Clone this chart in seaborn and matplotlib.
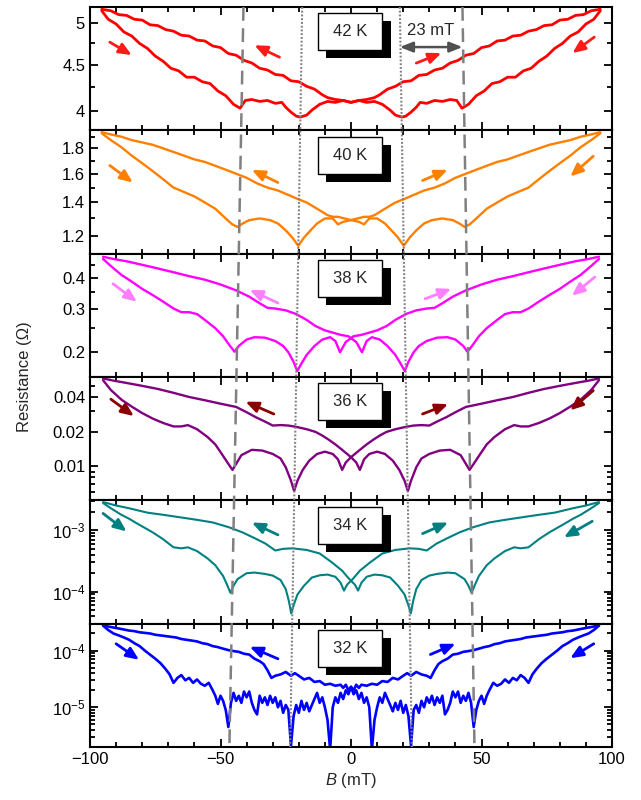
import matplotlib
matplotlib.use("Agg")
import matplotlib.pyplot as plt
import seaborn as sns
from matplotlib.patches import Rectangle
from matplotlib.ticker import (FixedLocator, FixedFormatter, NullFormatter,
                               LogLocator, LogFormatterMathtext, MultipleLocator)

# ── Style ──────────────────────────────────────────────
sns.set_style("ticks")
plt.rcParams["font.family"] = ["Liberation Sans", "DejaVu Sans"]
plt.rcParams["mathtext.fontset"] = "custom"
plt.rcParams["mathtext.rm"] = "Liberation Sans"
plt.rcParams["mathtext.it"] = "Liberation Sans:italic"
plt.rcParams["axes.linewidth"] = 1.5

# ── Data: up sweep (-B -> +B); down sweep is its mirror image ──
temps = ["42 K", "40 K", "38 K", "36 K", "34 K", "32 K"]
line_colors = ["#ff0000", "#ff8000", "#ff00ff", "#800080", "#008080", "#0000ff"]
arrow_colors = ["#ff1a1a", "#ff8000", "#ff80ff", "#8b0000", "#008080", "#0000ff"]

b42 = [-95.5, -93, -90, -87, -84, -81, -78, -75, -72, -69, -66, -63, -60, -57, -54,
       -51, -48, -45, -42.5, -40.5, -38, -35, -32, -29, -26.5, -25, -23, -21, -19.5,
       -17, -15, -12, -9, -6, -3, 0, 3, 6, 9, 11, 14, 17, 20, 23, 26, 29, 32, 35, 38,
       41, 44, 47, 50, 53, 56, 59, 62, 65, 68, 71, 74, 77, 80, 83, 86, 89, 92, 95.5]
r42 = [5.16, 5.05, 4.99, 4.89, 4.84, 4.75, 4.69, 4.60, 4.54, 4.46, 4.43, 4.36, 4.36,
       4.31, 4.29, 4.21, 4.16, 4.07, 4.03, 4.11, 4.12, 4.10, 4.11, 4.08, 4.09, 4.04,
       3.99, 3.95, 3.94, 3.96, 4.01, 4.07, 4.10, 4.09, 4.11, 4.09, 4.11, 4.12, 4.14,
       4.17, 4.23, 4.26, 4.31, 4.32, 4.38, 4.39, 4.44, 4.46, 4.52, 4.55, 4.61, 4.63,
       4.70, 4.72, 4.78, 4.79, 4.84, 4.85, 4.90, 4.92, 4.97, 4.98, 5.04, 5.05, 5.10,
       5.11, 5.16, 5.18]

b40 = [-95.5, -92, -88, -84, -80, -76, -72, -68, -64, -60, -56, -52, -48, -45.5, -43.5,
       -41.5, -39, -35, -31, -28, -25, -22.5, -20.2, -18, -15.5, -13, -10, -7, -5, -3,
       0, 2.5, 5, 7, 9, 11, 14, 17, 20, 24, 28, 32, 36, 40, 44, 48, 52, 56, 60, 64, 68,
       72, 76, 80, 84, 88, 92, 95.5]
r40 = [1.93, 1.87, 1.81, 1.74, 1.68, 1.62, 1.56, 1.50, 1.47, 1.44, 1.40, 1.36, 1.30,
       1.265, 1.25, 1.27, 1.29, 1.30, 1.29, 1.27, 1.23, 1.19, 1.145, 1.19, 1.23, 1.27,
       1.30, 1.30, 1.265, 1.28, 1.29, 1.30, 1.31, 1.31, 1.32, 1.34, 1.37, 1.40, 1.42,
       1.45, 1.48, 1.50, 1.53, 1.57, 1.60, 1.63, 1.66, 1.69, 1.71, 1.74, 1.77, 1.80,
       1.83, 1.85, 1.87, 1.90, 1.92, 1.94]

b38 = [-95, -92, -88, -84, -80, -76, -72, -68, -65, -62, -59, -56, -52, -49, -46.5,
       -44.6, -43, -40, -37, -33, -29, -26, -24, -22, -20.6, -19, -17, -14, -11, -8,
       -6, -4.2, -2, 1, 4, 7, 10, 13.6, 17, 21, 25, 29, 32, 35, 39, 44, 50, 56, 62, 68,
       74, 80, 86, 91, 95]
r38 = [0.475, 0.445, 0.41, 0.385, 0.36, 0.34, 0.32, 0.30, 0.29, 0.29, 0.285, 0.27,
       0.25, 0.232, 0.213, 0.201, 0.212, 0.225, 0.23, 0.229, 0.222, 0.212, 0.20, 0.183,
       0.168, 0.18, 0.195, 0.212, 0.225, 0.23, 0.222, 0.20, 0.22, 0.232, 0.235, 0.24,
       0.245, 0.255, 0.27, 0.285, 0.295, 0.30, 0.302, 0.315, 0.335, 0.355, 0.375, 0.392,
       0.405, 0.42, 0.435, 0.45, 0.465, 0.475, 0.485]

b36 = [-95, -92, -88, -84, -80, -76, -72, -68, -65, -62.5, -59, -55, -52, -49, -47,
       -45.4, -44, -42, -38, -34, -30, -27, -25, -23, -21.8, -20.5, -18.5, -16, -13,
       -10, -7, -5, -3.4, -2, 0, 3.4, 6, 8.5, 11, 13.6, 17, 21, 24, 27, 30, 33, 36.5,
       40, 44, 50, 56, 62, 68, 74, 80, 86, 91, 95]
r36 = [0.056, 0.046, 0.038, 0.033, 0.029, 0.026, 0.0238, 0.0222, 0.0222, 0.0228,
       0.021, 0.018, 0.0155, 0.0123, 0.0105, 0.0093, 0.0105, 0.0125, 0.0139, 0.0137,
       0.0128, 0.0117, 0.0098, 0.0075, 0.0061, 0.0075, 0.0093, 0.0112, 0.0128, 0.0134,
       0.0128, 0.0115, 0.0093, 0.0108, 0.012, 0.0139, 0.0155, 0.017, 0.0185, 0.0199,
       0.021, 0.022, 0.0226, 0.0228, 0.0226, 0.0245, 0.0267, 0.0295, 0.0328, 0.035,
       0.0375, 0.040, 0.0435, 0.047, 0.050, 0.053, 0.0555, 0.058]

b34 = [-95, -92, -88, -85, -82, -79, -76, -72, -68, -65, -62.5, -59, -55, -52, -49,
       -47.5, -46.2, -45, -43.5, -40, -37, -33, -30, -27, -25, -23.8, -22.9, -22, -20.5,
       -18, -15, -12, -9, -6, -4, -2.7, -1.5, 0.8, 3.4, 7.3, 12, 17, 22.5, 26, 29, 32.8,
       37, 41.6, 46.6, 53, 59.5, 66, 72, 78, 85, 90, 95]
r34 = [2.8e-3, 2.3e-3, 1.8e-3, 1.55e-3, 1.3e-3, 1.1e-3, 9.3e-4, 7.2e-4, 5.3e-4, 5.1e-4,
       5.3e-4, 4.6e-4, 3.5e-4, 2.7e-4, 1.8e-4, 1.3e-4, 9.6e-5, 1.25e-4, 1.6e-4, 2.0e-4,
       2.05e-4, 1.95e-4, 1.83e-4, 1.55e-4, 1.1e-4, 7.0e-5, 4.4e-5, 6.0e-5, 9.0e-5,
       1.25e-4, 1.7e-4, 1.85e-4, 1.9e-4, 1.75e-4, 1.4e-4, 1.04e-4, 1.3e-4, 1.63e-4,
       2.2e-4, 3.0e-4, 4.2e-4, 4.8e-4, 5.1e-4, 5.0e-4, 4.7e-4, 6.1e-4, 7.5e-4, 9.3e-4,
       1.12e-3, 1.35e-3, 1.5e-3, 1.65e-3, 1.8e-3, 1.95e-3, 2.3e-3, 2.55e-3, 2.9e-3]

b32 = [-95, -93, -91, -89, -87, -85, -83, -81, -79, -77, -75, -73, -71, -69.5, -68,
       -66.5, -65, -63.5, -62, -60.5, -59, -57.5, -56, -54.5, -53, -52, -51, -50, -49,
       -48, -47, -46, -45, -44, -43, -42, -41, -40, -39, -38, -37, -36, -35, -34, -33,
       -32, -31, -30, -29, -28, -27, -26, -25, -24, -23, -22, -21, -20, -19, -18, -17,
       -16, -15, -14, -13, -12, -11, -10, -9, -8, -7, -6, -5, -4, -3, -2, -1, 0, 1, 2,
       3, 4, 6, 8, 10, 12, 14, 16, 18, 20, 21.5, 23, 25, 27, 29, 30.5, 32, 33.5, 35,
       37, 39, 41, 43, 45, 47, 49, 51, 53, 55, 57, 59, 61, 63, 65, 67, 69, 71, 73, 75,
       77, 79, 81, 83, 85, 87, 89, 91, 93, 95]
r32 = [2.75e-4, 2.3e-4, 2.0e-4, 1.85e-4, 1.7e-4, 1.55e-4, 1.35e-4, 1.2e-4, 1.0e-4,
       8.5e-5, 7.2e-5, 6.0e-5, 4.7e-5, 3.8e-5, 2.7e-5, 3.3e-5, 3.7e-5, 3.0e-5, 3.3e-5,
       2.7e-5, 3.1e-5, 2.6e-5, 2.4e-5, 2.7e-5, 2.0e-5, 1.6e-5, 1.15e-5, 1.6e-5, 1.3e-5,
       9.0e-6, 4.5e-6, 1.2e-5, 1.8e-5, 1.3e-5, 1.6e-5, 1.2e-5, 1.9e-5, 1.5e-5, 1.9e-5,
       1.2e-5, 9.0e-6, 7.5e-6, 1.6e-5, 1.2e-5, 1.5e-5, 1.1e-5, 1.6e-5, 1.2e-5, 1.5e-5,
       1.0e-5, 1.3e-5, 8.0e-6, 1.1e-5, 9.0e-6, 2.1e-6, 7.0e-6, 1.1e-5, 8.0e-6, 1.3e-5,
       9.0e-6, 1.2e-5, 8.5e-6, 1.1e-5, 1.4e-5, 1.8e-5, 1.2e-5, 1.5e-5, 1.0e-5, 6.0e-6,
       1.8e-6, 1.0e-5, 1.5e-5, 1.2e-5, 1.8e-5, 1.4e-5, 2.0e-5, 1.7e-5, 2.3e-5, 2.0e-5,
       2.5e-5, 2.2e-5, 2.5e-5, 2.4e-5, 2.6e-5, 2.5e-5, 2.9e-5, 2.8e-5, 3.3e-5, 3.1e-5,
       3.6e-5, 4.0e-5, 3.6e-5, 4.2e-5, 3.8e-5, 3.6e-5, 3.3e-5, 4.5e-5, 5.8e-5, 6.5e-5,
       7.2e-5, 8.5e-5, 8.8e-5, 9.5e-5, 9.8e-5, 1.02e-4, 1.08e-4, 1.15e-4, 1.2e-4,
       1.3e-4, 1.35e-4, 1.45e-4, 1.5e-4, 1.55e-4, 1.6e-4, 1.7e-4, 1.75e-4, 1.8e-4,
       1.85e-4, 1.9e-4, 2.0e-4, 2.05e-4, 2.1e-4, 2.2e-4, 2.25e-4, 2.35e-4, 2.45e-4,
       2.55e-4, 2.65e-4, 2.8e-4]

fields = [b42, b40, b38, b36, b34, b32]
values = [r42, r40, r38, r36, r34, r32]
line_widths = [2.0, 1.7, 1.7, 1.7, 1.5, 1.9]

ylims = [(3.81, 5.21), (1.104, 1.957), (0.159, 0.499),
         (0.00506, 0.0597), (3.0e-5, 3.1e-3), (2.0e-6, 2.98e-4)]
major_ticks = [[4, 4.5, 5], [1.2, 1.4, 1.6, 1.8], [0.2, 0.3, 0.4],
               [0.01, 0.02, 0.04], None, None]
major_labels = [["4", "4.5", "5"], ["1.2", "1.4", "1.6", "1.8"],
                ["0.2", "0.3", "0.4"], ["0.01", "0.02", "0.04"], None, None]
minor_ticks = [[4.25, 4.75], [1.1, 1.3, 1.5, 1.7, 1.9], [0.25, 0.35, 0.45],
               [0.006, 0.007, 0.008, 0.009, 0.03, 0.05], None, None]

# guide lines (top of panel 1 -> bottom of panel 6)
dash_top, dash_bottom = [-41.2, 42.7], [-46.6, 47.3]
dot_top, dot_bottom = [-18.7, 18.7], [-23.3, 23.3]

# sweep arrows in axes fraction: (x_start, y_start, x_end, y_end)
arrows = [
    [(0.038, 0.715, 0.080, 0.61), (0.363, 0.593, 0.315, 0.69),
     (0.625, 0.545, 0.673, 0.626), (0.966, 0.756, 0.924, 0.626)],
    [(0.038, 0.715, 0.082, 0.577), (0.36, 0.577, 0.31, 0.68),
     (0.637, 0.593, 0.685, 0.68), (0.964, 0.79, 0.92, 0.626)],
    [(0.044, 0.756, 0.09, 0.61), (0.36, 0.60, 0.306, 0.707),
     (0.642, 0.634, 0.692, 0.715), (0.967, 0.81, 0.923, 0.659)],
    [(0.04, 0.82, 0.084, 0.683), (0.352, 0.70, 0.298, 0.80),
     (0.637, 0.70, 0.686, 0.78), (0.964, 0.89, 0.92, 0.73)],
    [(0.025, 0.894, 0.07, 0.748), (0.36, 0.72, 0.31, 0.82),
     (0.637, 0.73, 0.686, 0.82), (0.962, 0.83, 0.908, 0.70)],
    [(0.05, 0.837, 0.094, 0.707), (0.36, 0.715, 0.306, 0.813),
     (0.652, 0.75, 0.70, 0.837), (0.965, 0.837, 0.92, 0.72)],
]

# ── Figure ─────────────────────────────────────────────
L, R, B, T = 0.1404, 0.9548, 0.06625, 0.99125
fig, axes = plt.subplots(6, 1, figsize=(6.41, 8.0), dpi=100, sharex=True,
                         gridspec_kw={"hspace": 0})
fig.subplots_adjust(left=L, right=R, bottom=B, top=T)

for i, ax in enumerate(axes):
    bx, ry = fields[i], values[i]
    # up sweep
    sns.lineplot(x=bx, y=ry, ax=ax, color=line_colors[i], lw=line_widths[i],
                 sort=False, estimator=None)
    # down sweep (mirror)
    sns.lineplot(x=[-v for v in bx], y=ry, ax=ax, color=line_colors[i],
                 lw=line_widths[i], sort=False, estimator=None)
    ax.set_yscale("log")
    ax.set_ylim(*ylims[i])
    ax.set_xlim(-100, 100)
    ax.set_ylabel("")

    if major_ticks[i] is not None:
        ax.yaxis.set_major_locator(FixedLocator(major_ticks[i]))
        ax.yaxis.set_major_formatter(FixedFormatter(major_labels[i]))
        ax.yaxis.set_minor_locator(FixedLocator(minor_ticks[i]))
    else:
        ax.yaxis.set_major_locator(LogLocator(base=10))
        ax.yaxis.set_major_formatter(LogFormatterMathtext())
        ax.yaxis.set_minor_locator(LogLocator(base=10, subs=range(2, 10)))
    ax.yaxis.set_minor_formatter(NullFormatter())

    ax.xaxis.set_major_locator(MultipleLocator(50))
    ax.xaxis.set_minor_locator(MultipleLocator(10))
    ax.tick_params(which="both", direction="in", top=True, right=True,
                   labelsize=12, width=1.3, colors="black")
    ax.tick_params(which="major", length=6)
    ax.tick_params(which="minor", length=3.5)
    for s in ax.spines.values():
        s.set_linewidth(1.5)
        s.set_color("black")

    # temperature label with drop shadow
    ax.add_patch(Rectangle((0.453, 0.585), 0.124, 0.30, transform=ax.transAxes,
                           facecolor="black", edgecolor="none", zorder=5))
    ax.add_patch(Rectangle((0.436, 0.65), 0.124, 0.30, transform=ax.transAxes,
                           facecolor="white", edgecolor="black", lw=1, zorder=6))
    ax.text(0.498, 0.80, temps[i], transform=ax.transAxes, ha="center",
            va="center", fontsize=12, zorder=7)

    for (x0, y0, x1, y1) in arrows[i]:
        ax.annotate("", xy=(x1, y1), xytext=(x0, y0), xycoords="axes fraction",
                    textcoords="axes fraction",
                    arrowprops=dict(arrowstyle="-|>,head_length=0.75,head_width=0.32",
                                    color=arrow_colors[i], lw=2.0,
                                    shrinkA=0, shrinkB=0, mutation_scale=10),
                    zorder=4)

# 23 mT marker in top panel
ax0 = axes[0]
tr = ax0.get_xaxis_transform()
ax0.annotate("", xy=(dot_top[1], 0.675), xytext=(dash_top[1], 0.675),
             xycoords=tr, textcoords=tr,
             arrowprops=dict(arrowstyle="<|-|>,head_length=0.7,head_width=0.28",
                             color="#505050", lw=1.8, shrinkA=0, shrinkB=0,
                             mutation_scale=11), zorder=8)
ax0.text(30.5, 0.81, "23 mT", transform=tr, ha="center", va="center",
         fontsize=12, zorder=8)

axes[-1].set_xlabel("$B$ (mT)", fontsize=12, labelpad=3)
fig.text(0.039, (B + T) / 2, "Resistance (Ω)", rotation=90, ha="center",
         va="center", fontsize=12)

# overlay for slanted guide lines across all panels
ov = fig.add_axes([L, B, R - L, T - B])
ov.set_xlim(-100, 100)
ov.set_ylim(0, 1)
ov.axis("off")
ov.patch.set_alpha(0)
for xt, xb in zip(dash_top, dash_bottom):
    ov.plot([xt, xb], [1, 0], color="#808080", lw=1.8, dashes=(5.5, 3))
for xt, xb in zip(dot_top, dot_bottom):
    ov.plot([xt, xb], [1, 0], color="#808080", lw=1.5, dashes=(0.9, 0.9))

fig.savefig("out.png", dpi=100)
